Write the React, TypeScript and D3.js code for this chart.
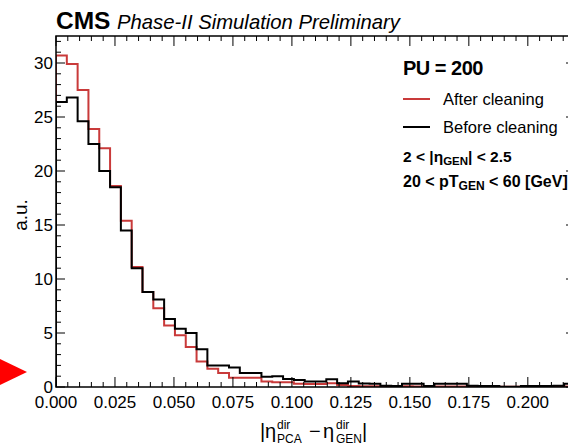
import React from "react";
import * as d3 from "d3";

const binCount = 48;
const xMax = 0.22;
const afterCleaning = [
  30.7, 29.9, 27.5, 23.9, 22.1, 18.6, 15.4, 11.1, 8.8, 7.3, 5.7, 4.8, 3.7, 2.35, 1.7, 1.3,
  0.86, 0.86, 0.86, 0.5, 0.45, 0.45, 0.3, 0.28, 0.28, 0.35, 0.18, 0.1, 0.08, 0.06, 0.05, 0.05,
  0.06, 0.05, 0.04, 0.05, 0.05, 0.04, 0.03, 0.03, 0.03, 0.02, 0.02, 0.03, 0.03, 0.03, 0.03, 0.04,
];
const beforeCleaning = [
  26.4, 26.8, 24.6, 22.5, 20.0, 18.5, 14.5, 11.0, 8.8, 8.1, 6.3, 5.4, 5.0, 3.5, 2.0, 2.0,
  1.8, 1.3, 1.3, 0.95, 1.0, 0.75, 0.65, 0.5, 0.5, 0.72, 0.35, 0.5, 0.33, 0.3, 0.12, 0.1,
  0.3, 0.3, 0.1, 0.3, 0.3, 0.3, 0.12, 0.1, 0.1, 0.02, 0.03, 0.1, 0.1, 0.1, 0.12, 0.3,
];
const xTickValues = [0, 0.025, 0.05, 0.075, 0.1, 0.125, 0.15, 0.175, 0.2];
const yTickValues = [0, 5, 10, 15, 20, 25, 30];

const W = 568;
const H = 446;
const left = 56;
const right = 575;
const top = 36;
const bottom = 387;
const FONT = "'Liberation Sans', Arial, Helvetica, sans-serif";
const RED = "#c93a3a";

export default function App() {
  const x = d3.scaleLinear().domain([0, xMax]).range([left, right]);
  const y = d3.scaleLinear().domain([0, 32.5]).range([bottom, top]);
  const bw = xMax / binCount;

  const stepPath = (vals: number[]) => {
    const pts: [number, number][] = [[0, 0]];
    vals.forEach((v, i) => pts.push([i * bw, v]));
    pts.push([vals.length * bw, vals[vals.length - 1]]);
    const line = d3
      .line<[number, number]>()
      .x((d) => x(d[0]))
      .y((d) => y(d[1]))
      .curve(d3.curveStepAfter);
    return line(pts) || "";
  };

  const xMinor = d3.range(0, xMax + 1e-9, 0.005);
  const yMinor = d3.range(0, 32.5, 1);

  return (
    <svg
      width={W}
      height={H}
      style={{ position: "absolute", left: 0, top: 0, background: "#fff" }}
      fontFamily={FONT}
    >
      <defs>
        <clipPath id="plotclip">
          <rect x={left} y={top} width={right - left} height={bottom - top} />
        </clipPath>
      </defs>
      {/* histograms */}
      <g clipPath="url(#plotclip)">
        <path d={stepPath(afterCleaning)} fill="none" stroke={RED} strokeWidth={2} />
        <path d={stepPath(beforeCleaning)} fill="none" stroke="#000" strokeWidth={2} />
      </g>
      {/* frame */}
      <rect x={left} y={top} width={right - left} height={bottom - top} fill="none" stroke="#000" strokeWidth={1.5} />
      {/* x ticks */}
      {xMinor.map((t, i) => {
        const major = Math.abs(t / 0.025 - Math.round(t / 0.025)) < 1e-6;
        const len = major ? 10 : 5;
        return (
          <g key={"xt" + i}>
            <line x1={x(t)} x2={x(t)} y1={bottom} y2={bottom - len} stroke="#000" strokeWidth={1} />
            <line x1={x(t)} x2={x(t)} y1={top} y2={top + len} stroke="#000" strokeWidth={1} />
          </g>
        );
      })}
      {/* y ticks */}
      {yMinor.map((t, i) => {
        const major = t % 5 === 0;
        const len = major ? 9 : 5;
        return (
          <g key={"yt" + i}>
            <line x1={left} x2={left + len} y1={y(t)} y2={y(t)} stroke="#000" strokeWidth={1} />
            <line x1={right} x2={right - len} y1={y(t)} y2={y(t)} stroke="#000" strokeWidth={1} />
          </g>
        );
      })}
      {xTickValues.map((t, i) => (
        <text key={"xl" + i} x={x(t)} y={408} textAnchor="middle" fontSize={17} fill="#000">
          {t.toFixed(3)}
        </text>
      ))}
      {yTickValues.map((t, i) => (
        <text key={"yl" + i} x={53} y={y(t) + 6} textAnchor="end" fontSize={17} fill="#000">
          {t}
        </text>
      ))}
      {/* y axis title */}
      <text transform="translate(27,215) rotate(-90)" textAnchor="middle" fontSize={19} fill="#000">
        a.u.
      </text>
      {/* x axis title */}
      <g fontSize={20} fill="#000">
        <text x={260} y={438}>|</text>
        <text x={265} y={438}>η</text>
        <text x={277} y={429} fontSize={12}>dir</text>
        <text x={277} y={443} fontSize={12}>PCA</text>
        <text x={309} y={438}>−</text>
        <text x={323} y={438}>η</text>
        <text x={336} y={429} fontSize={12}>dir</text>
        <text x={336} y={443} fontSize={12}>GEN</text>
        <text x={362} y={438}>|</text>
      </g>
      {/* header */}
      <text x={56} y={29} fontSize={24.5} fontWeight="bold" fill="#000">
        CMS
      </text>
      <text x={117} y={29} fontSize={20.3} fontStyle="italic" fill="#000">
        Phase-II Simulation Preliminary
      </text>
      {/* legend */}
      <text x={403} y={75} fontSize={20} fontWeight="bold" fill="#000" letterSpacing={-0.5}>
        PU = 200
      </text>
      <line x1={403} x2={430} y1={99} y2={99} stroke={RED} strokeWidth={2} />
      <text x={443} y={105} fontSize={16.5} fill="#000">After cleaning</text>
      <line x1={403} x2={430} y1={127} y2={127} stroke="#000" strokeWidth={2} />
      <text x={443} y={133} fontSize={16.5} fill="#000">Before cleaning</text>
      <text x={403} y={162} fontSize={15.5} fontWeight="bold" fill="#000">
        2 {"<"} |η
        <tspan fontSize={11.5} dy={3}>GEN</tspan>
        <tspan dy={-3}>| {"<"} 2.5</tspan>
      </text>
      <text x={403} y={187} fontSize={16} fontWeight="bold" fill="#000">
        20 {"<"} pT
        <tspan fontSize={12} dy={3}>GEN</tspan>
        <tspan dy={-3}> {"<"} 60 [GeV]</tspan>
      </text>
      {/* red arrow marker */}
      <path d="M0,359 L27,372 L0,385 Z" fill="#ff0000" />
    </svg>
  );
}
